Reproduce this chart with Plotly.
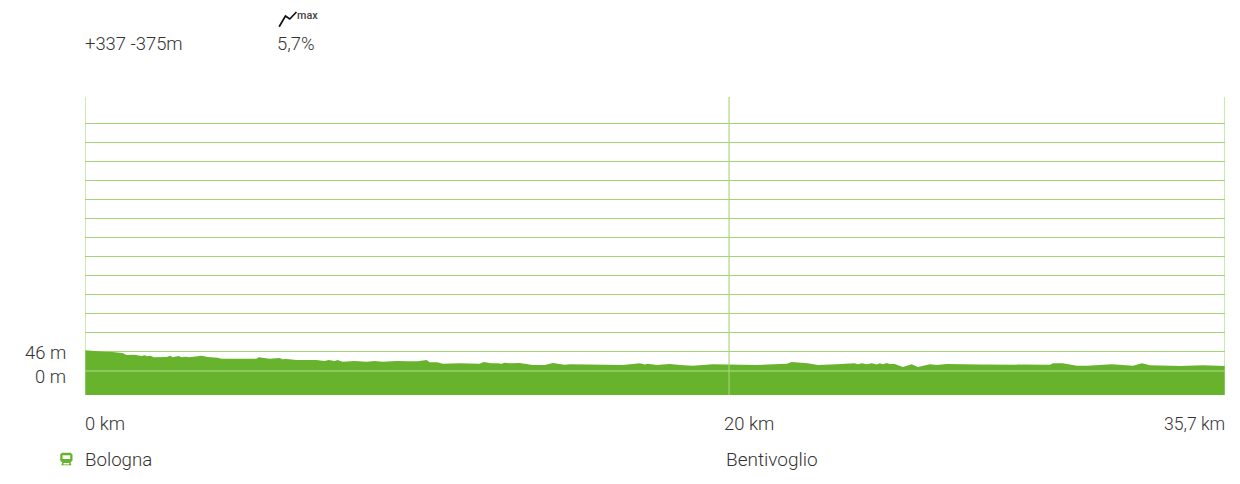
import plotly.graph_objects as go

km = [0, .24, .45, .61, .86, 1.17, 1.30, 1.49, 1.55, 1.77, 1.86, 1.96, 2.05, 2.15, 2.43, 2.55, 2.68, 2.74, 2.93, 3.02,
      3.15, 3.27, 3.65, 3.84, 4.15, 4.28, 5.37, 5.44, 5.78, 6.0, 6.09, 6.19, 6.31, 6.63, 7.25, 7.50, 7.63, 7.82, 7.91,
      8.07, 8.44, 8.82, 9.07, 9.32, 9.76, 10.07, 10.26, 10.42, 10.70, 10.79, 11.04, 11.2, 11.73, 12.36, 12.48, 12.73,
      12.92, 13.05, 13.14, 13.3, 13.61, 13.93, 14.02, 14.4, 14.65, 15.02, 15.18, 16.84, 17.38, 17.53, 17.62, 17.91,
      18.31, 18.63, 19.03, 19.66, 20.13, 20.25, 20.44, 21.04, 21.98, 22.13, 22.63, 22.95, 23.54, 23.95, 24.1, 24.2,
      24.33, 24.48, 24.64, 24.8, 24.89, 24.98, 25.11, 25.2, 25.36, 25.61, 25.89, 26.08, 26.46, 26.68, 26.99, 28.02,
      29.81, 30.0, 30.22, 30.31, 30.62, 31.06, 31.38, 32.16, 32.82, 33.1, 33.35, 34.29, 35.01, 35.7]
elevation = [50, 48.3, 47.6, 46.6, 45.9, 43.5, 38.7, 37.9, 39.4, 36.2, 37.9, 35.5, 37, 33.1, 34.5, 33.8, 37, 33.1, 36.2,
             33.1, 34.5, 33.1, 37, 33.8, 32.1, 29.7, 29.7, 33.1, 29.7, 30.7, 31.4, 28.3, 29, 26.6, 26.6, 24.2, 26.6,
             24.2, 26.6, 22.5, 24.2, 22.5, 24.2, 22.5, 24.2, 23.3, 24.2, 23.3, 26.6, 21, 21, 17.6, 18.6, 17.6, 21.7,
             18.6, 18.6, 17.6, 20, 18.6, 19.3, 16.2, 14.5, 14.5, 19.3, 15.2, 16.2, 14.5, 18.6, 15.6, 17.6, 14.5, 16.9,
             14.5, 12.8, 16.2, 16.2, 14.5, 16.2, 14.5, 17.6, 21.7, 18.6, 14.5, 16.2, 16.9, 18.6, 16.2, 18.6, 16.2, 18.6,
             15.6, 18.6, 16.2, 19.3, 16.9, 16.9, 9.7, 16.2, 9.7, 16.2, 14.5, 16.9, 15.6, 15.2, 16.2, 15.2, 18.6, 18.6,
             12.8, 12.8, 16.2, 12.8, 18.6, 13.8, 12.1, 13.8, 12.1]
grid_levels = [46 * i for i in range(1, 14)]
distance_ticks = ["0 km", "20 km", "35,7 km"]
distance_tick_pos = [0, 20, 35.7]
elevation_ticks = ["46 m", "0 m"]
elevation_tick_pos = [46, 0]
place_names = ["Bologna", "Bentivoglio"]
place_km = [0, 20.17]
AXIS_BOTTOM, AXIS_TOP = -58, 662
X_MAX = 35.7

L, R, T, B = 84.5, 1224.8, 97, 395
W, H = 1240, 484
TEXT = "#333333"
GREEN = "#67B32E"
GRID = "#A4D573"
FONT = "Roboto"


def px(x):
    return (x - L) / (R - L)


def py(y):
    return (B - y) / (B - T)


def path(points, close=False):
    s = "M" + " L".join(f"{px(x):.5f},{py(y):.5f}" for x, y in points)
    return s + (" Z" if close else "")


fig = go.Figure()
fig.add_trace(go.Scatter(x=[0, X_MAX], y=[AXIS_BOTTOM, AXIS_BOTTOM], mode="lines",
                         line=dict(width=0), hoverinfo="skip"))
fig.add_trace(go.Scatter(x=km, y=elevation, mode="lines", line=dict(width=0, color=GREEN),
                         fill="tonexty", fillcolor=GREEN))
fig.add_trace(go.Scatter(x=[0, X_MAX], y=[0, 0], mode="lines",
                         line=dict(width=1.2, color="rgba(205,232,175,0.8)"), hoverinfo="skip"))
for pos in [0, place_km[1], X_MAX]:
    fig.add_trace(go.Scatter(x=[pos, pos], y=[AXIS_BOTTOM, AXIS_TOP], mode="lines", cliponaxis=False,
                             line=dict(width=1.6, color="rgba(165,213,115,0.7)"), hoverinfo="skip"))

shapes = [
    dict(type="path", xref="paper", yref="paper", layer="above",
         path=path([(278.7, 26.7), (285, 16), (289.3, 19), (296, 12)]),
         line=dict(color="#111111", width=1.7)),
    dict(type="path", xref="paper", yref="paper", layer="above", fillcolor=GREEN, line=dict(width=0),
         path=path([(61.5, 452.7), (70, 452.7), (72, 454.5), (72, 460.5), (70, 462.5), (61.5, 462.5),
                    (59.7, 460.5), (59.7, 454.5)], True)),
    dict(type="path", xref="paper", yref="paper", layer="above", fillcolor=GREEN, line=dict(width=0),
         path=path([(62, 462), (69.7, 462), (71, 465.3), (60.7, 465.3)], True)),
    dict(type="rect", xref="paper", yref="paper", layer="above", fillcolor="white", line=dict(width=0),
         x0=px(62), x1=px(69.7), y0=py(459), y1=py(455.3)),
    dict(type="rect", xref="paper", yref="paper", layer="above", fillcolor="white", line=dict(width=0),
         x0=px(63), x1=px(68.7), y0=py(464.4), y1=py(463)),
]


def label(x, y, text, size=18.4, anchor="left", color=TEXT, weight=300):
    return dict(xref="paper", yref="paper", x=px(x), y=py(y), text=text, showarrow=False,
                xanchor=anchor, yanchor="middle", align=anchor,
                font=dict(family=FONT, size=size, color=color, weight=weight))


annotations = [
    label(82.5, 43.5, "+337 -375m"),
    label(274.7, 43.5, "5,7%"),
    label(294.3, 16, "max", size=10.8, color="#444444", weight=500),
    label(67.5, 352.5, elevation_ticks[0], anchor="right"),
    label(67.5, 376, elevation_ticks[1], anchor="right"),
    label(82.5, 423, distance_ticks[0]),
    label(721.5, 423, distance_ticks[1]),
    label(1226.7, 423.8, distance_ticks[2], size=17.6, anchor="right"),
    label(82.8, 459.8, place_names[0], size=18.7),
    label(723.5, 459, place_names[1], size=19),
]

fig.update_layout(
    width=W, height=H, showlegend=False, plot_bgcolor="white", paper_bgcolor="white",
    margin=dict(l=L, r=W - R, t=T, b=H - B, pad=0),
    shapes=shapes, annotations=annotations,
    xaxis=dict(range=[0, X_MAX], showgrid=False, zeroline=False, showticklabels=False, ticks="",
               showline=False),
    yaxis=dict(range=[AXIS_BOTTOM, AXIS_TOP], tickvals=grid_levels, showgrid=True, gridcolor=GRID, gridwidth=1.2,
               zeroline=False, showticklabels=False, ticks="", showline=False),
)
fig.write_html("out.html", config={"displayModeBar": False},
               post_script="document.body.style.margin='0';")
